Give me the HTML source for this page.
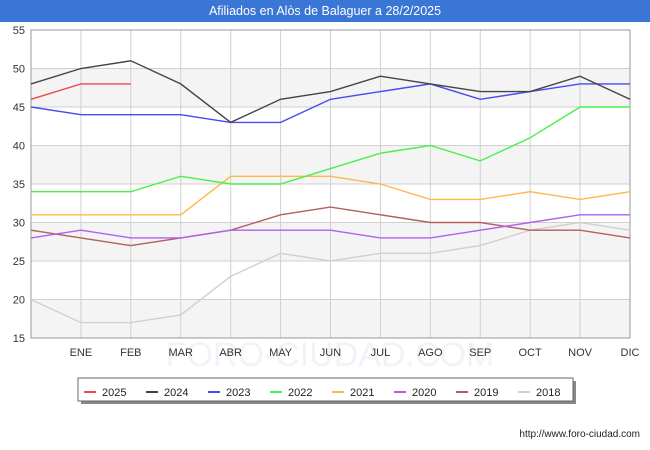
<!DOCTYPE html>
<html><head><meta charset="utf-8">
<style>
body{margin:0;background:#fff;font-family:"Liberation Sans",sans-serif;}
#wrap{position:relative;width:650px;height:450px;overflow:hidden;}
#title{position:absolute;left:0;top:0;width:650px;height:22px;background:#3a76d6;color:#fff;font-size:12.5px;line-height:22px;text-align:center;}
</style></head><body>
<div id="wrap">
<div id="title">Afiliados en Alòs de Balaguer a 28/2/2025</div>
<svg id="chart" width="650" height="450" style="position:absolute;left:0;top:0"></svg>
</div>
<script>
const months=["","ENE","FEB","MAR","ABR","MAY","JUN","JUL","AGO","SEP","OCT","NOV","DIC"];
const yTicks=[15,20,25,30,35,40,45,50,55];
const seriesNames=["2025","2024","2023","2022","2021","2020","2019","2018"];
const seriesColors=["#e84c4c","#444444","#4a4af0","#4af04a","#ffb84a","#b060f0","#b06060","#d0d0d0"];
const s2025=[46,48,48];
const s2024=[48,50,51,48,43,46,47,49,48,47,47,49,46];
const s2023=[45,44,44,44,43,43,46,47,48,46,47,48,48];
const s2022=[34,34,34,36,35,35,37,39,40,38,41,45,45];
const s2021=[31,31,31,31,36,36,36,35,33,33,34,33,34];
const s2020=[28,29,28,28,29,29,29,28,28,29,30,31,31];
const s2019=[29,28,27,28,29,31,32,31,30,30,29,29,28];
const s2018=[20,17,17,18,23,26,25,26,26,27,29,30,29];
const seriesData=[s2025,s2024,s2023,s2022,s2021,s2020,s2019,s2018];

const NS="http://www.w3.org/2000/svg";
const svg=document.getElementById('chart');
const L=31,R=630,T=30,B=338,yMin=15,yMax=55;
function x(i){return L+i*(R-L)/12;}
function y(v){return B-(v-yMin)*(B-T)/(yMax-yMin);}
function mk(t,a){const e=document.createElementNS(NS,t);for(const k in a)e.setAttribute(k,a[k]);svg.appendChild(e);return e;}

for(let i=0;i<yTicks.length-1;i++){
  if(i%2===0){const r=mk('rect',{x:L,y:y(yTicks[i+1]),width:R-L,height:y(yTicks[i])-y(yTicks[i+1]),fill:'#f4f4f4'});
  
  }
}
const wm=mk('text',{x:330,y:366,'text-anchor':'middle','font-size':34,fill:'#f2f3f8'});
wm.textContent='FORO-CIUDAD.COM';


yTicks.forEach(v=>{
  const g=mk('line',{x1:L,x2:R,y1:y(v),y2:y(v),stroke:'#d0d0d0','stroke-width':1});
  
  
  const t=mk('text',{x:L-6,y:y(v)+4,'text-anchor':'end','font-size':11,fill:'#333'});
  t.textContent=v;
  
  
});
months.forEach((m,i)=>{
  const g=mk('line',{x1:x(i),x2:x(i),y1:T,y2:B,stroke:'#d0d0d0','stroke-width':1});
  
  
  if(m){const t=mk('text',{x:x(i),y:B+18,'text-anchor':'middle','font-size':11,fill:'#333'});
  t.textContent=m;
  
  }
});
const fr=mk('rect',{x:L,y:T,width:R-L,height:B-T,fill:'none',stroke:'#999'});



for(let s=seriesData.length-1;s>=0;s--){
  const pts=seriesData[s].map((v,i)=>x(i)+','+y(v)).join(' ');
  const p=mk('polyline',{points:pts,fill:'none',stroke:seriesColors[s],'stroke-width':1.4});
  
  
}
const sh=mk('rect',{x:81,y:381,width:495,height:23,fill:'#888'});


const lg=mk('rect',{x:78,y:378,width:495,height:23,fill:'#fff',stroke:'#666'});


seriesNames.forEach((n,i)=>{
  const lx=84+i*62;
  const l=mk('line',{x1:lx,x2:lx+12,y1:392,y2:392,stroke:seriesColors[i],'stroke-width':2});
  
  
  const t=mk('text',{x:lx+18,y:396,'font-size':11,fill:'#222'});
  t.textContent=n;
  
  
});
const u=mk('text',{x:640,y:437,'text-anchor':'end','font-size':10,fill:'#222'});
u.textContent='http://www.foro-ciudad.com';


</script>
</body></html>
